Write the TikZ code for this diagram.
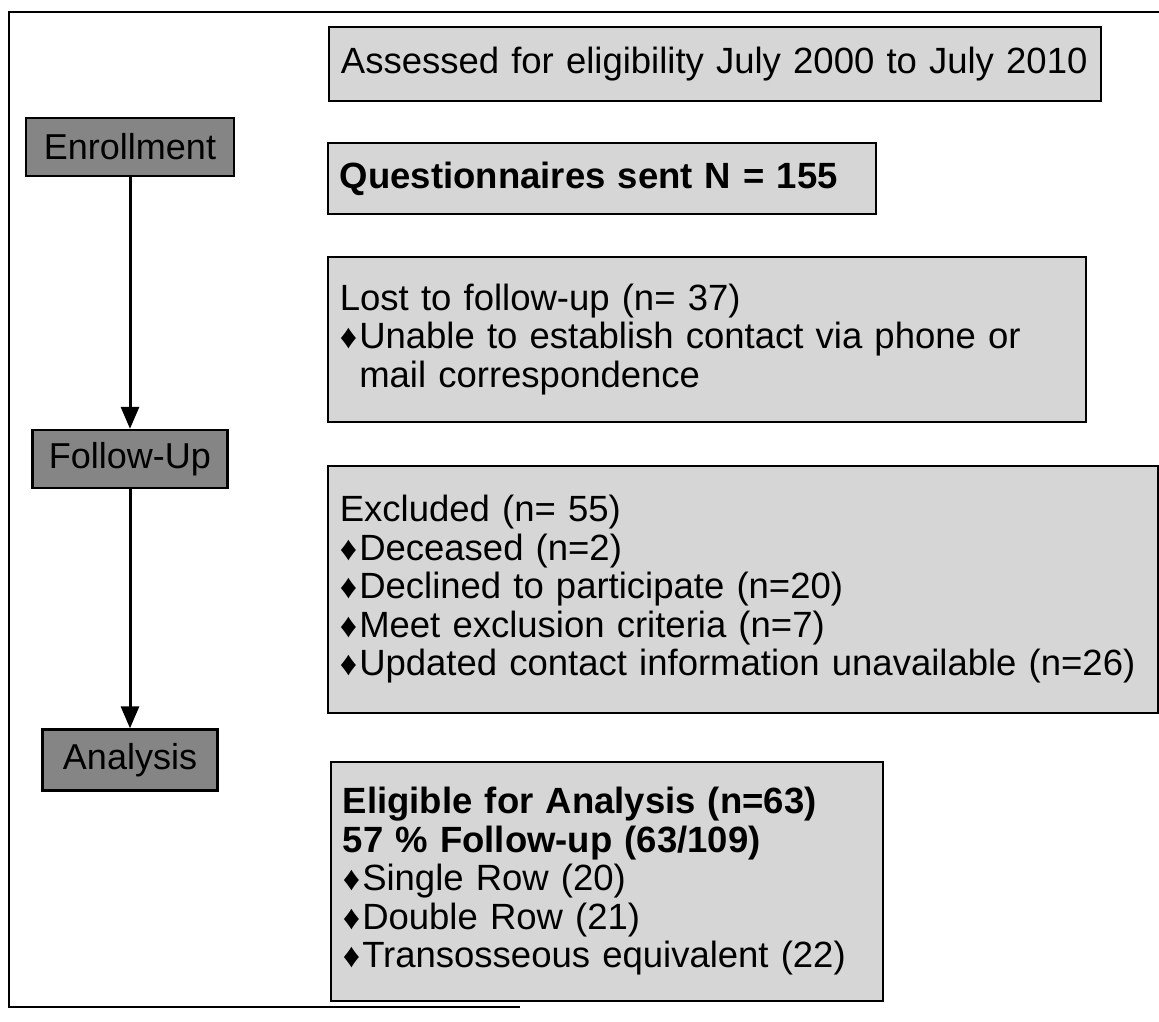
\documentclass[tikz,border=0pt]{standalone}
\usepackage{fontspec}
\setmainfont{Liberation Sans}
\usetikzlibrary{arrows.meta}
\definecolor{lightbox}{gray}{0.84}
\definecolor{darkbox}{gray}{0.52}
\newcommand{\bul}{{\fontsize{34}{34}\selectfont\raisebox{0pt}{♦}}\hspace{2pt}}
\newcommand{\bulsp}{\hphantom{{\fontsize{34}{34}\selectfont ♦}\hspace{2pt}}}
\begin{document}
\begin{tikzpicture}[x=1pt,y=-1pt,
  rbox/.style={draw, line width=1.8pt, fill=lightbox, inner xsep=12pt, inner ysep=0pt,
    anchor=north west, align=left, font=\fontsize{36.5}{38.5}\selectfont},
  lbox/.style={draw, line width=2.4pt, fill=darkbox, inner sep=0pt, align=center,
    font=\fontsize{36}{38}\selectfont},
  flow/.style={line width=3pt, -{Triangle[length=22pt,width=18pt]}},
  frame/.style={line width=2.6pt}]
\useasboundingbox (0,0) rectangle (1159,1021);
% frame
\coordinate (f1) at (1159,12);
\coordinate (f2) at (9,12);
\coordinate (f3) at (9,1007);
\coordinate (f4) at (520,1007);
\draw[frame] (f1) -- (f2) -- (f3) -- (f4);
% left stage boxes
\node[lbox, minimum width=208pt, minimum height=58pt] (enroll) at (130,147) {Enrollment};
\node[lbox, minimum width=195pt, minimum height=58pt] (follow) at (130,459) {Follow-Up};
\node[lbox, minimum width=175pt, minimum height=61pt] (analysis) at (130,760) {Analysis};
\draw[flow] (enroll) -- (follow);
\draw[flow] (follow) -- (analysis);
% right boxes
\node[rbox, text width=748pt, minimum height=74pt] (assess) at (328,26)
  {Assessed for eligibility July 2000 to July 2010};
\node[rbox, text width=524pt, minimum height=71pt] (quest) at (327,142)
  {\textbf{Questionnaires sent N = 155}};
\node[rbox, text width=734pt, minimum height=165pt] (lost) at (327,256)
  {Lost to follow-up (n= 37)\\
   \bul Unable to establish contact via phone or\\
   \bulsp mail correspondence};
\node[rbox, text width=806pt, minimum height=247pt] (excl) at (327,465)
  {Excluded (n= 55)\\
   \bul Deceased (n=2)\\
   \bul Declined to participate (n=20)\\
   \bul Meet exclusion criteria (n=7)\\
   \bul Updated contact information unavailable (n=26)};
\node[rbox, text width=528pt, minimum height=239pt] (elig) at (330,761)
  {\textbf{Eligible for Analysis (n=63)}\\
   \textbf{57 \% Follow-up (63/109)}\\
   \bul Single Row (20)\\
   \bul Double Row (21)\\
   \bul Transosseous equivalent (22)};
\end{tikzpicture}
\end{document}
